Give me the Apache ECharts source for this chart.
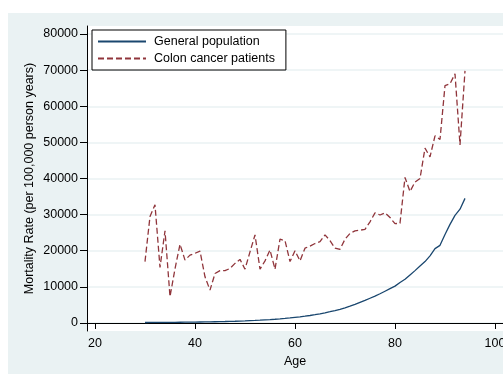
<!DOCTYPE html>
<html>
<head>
<meta charset="utf-8">
<script src="https://cdn.jsdelivr.net/npm/echarts@6/dist/echarts.min.js"></script>
<style>
  html, body { margin: 0; padding: 0; background: #ffffff; }
  #chart { width: 503px; height: 374px; }
</style>
</head>
<body>
<div id="chart"></div>
<script>
// Age in years
const ages = [30, 31, 32, 33, 34, 35, 36, 37, 38, 39,
              40, 41, 42, 43, 44, 45, 46, 47, 48, 49,
              50, 51, 52, 53, 54, 55, 56, 57, 58, 59,
              60, 61, 62, 63, 64, 65, 66, 67, 68, 69,
              70, 71, 72, 73, 74, 75, 76, 77, 78, 79,
              80, 81, 82, 83, 84, 85, 86, 87, 88, 89,
              90, 91, 92, 93, 94];

// Deaths per 100,000 person years
const generalPopulation = [140, 150, 155, 165, 175, 185, 195, 210, 225, 240,
                           260, 280, 300, 320, 350, 380, 410, 450, 490, 540,
                           590, 650, 710, 780, 860, 940, 1040, 1150, 1270, 1400,
                           1550, 1700, 1880, 2080, 2300, 2550, 2820, 3120, 3450, 3800,
                           4200, 4650, 5150, 5700, 6250, 6850, 7450, 8100, 8800, 9500,
                           10200, 11200, 12100, 13300, 14500, 15800, 17000, 18600, 20600, 21500,
                           24500, 27300, 29800, 31500, 34500];

const colonCancerPatients = [17000, 29500, 32700, 15400, 25500, 7300, 15000, 21800, 17400, 18800,
                             19300, 19900, 12800, 9100, 13700, 14500, 14500, 15100, 16500, 17600,
                             14900, 19700, 24400, 14900, 17200, 20200, 14900, 23200, 22800, 17000,
                             20000, 17200, 20700, 21300, 22000, 22500, 24400, 22800, 20700, 20400,
                             23200, 24800, 25500, 25700, 25900, 28000, 30500, 29900, 30500, 29200,
                             27500, 27600, 40300, 36400, 39000, 40000, 48400, 46000, 51800, 50800,
                             65700, 66200, 69000, 49300, 69800];

const xTicks = [20, 40, 60, 80, 100];
const yTicks = [0, 10000, 20000, 30000, 40000, 50000, 60000, 70000, 80000];

const FONT = "'Liberation Sans', Arial, sans-serif";
const pairs = (ys) => ages.map((a, i) => [a, ys[i]]);
const plain = (v) => String(v);

const chart = echarts.init(document.getElementById('chart'), null, { renderer: 'canvas' });

chart.setOption({
  animation: false,
  backgroundColor: '#ffffff',
  textStyle: { fontFamily: FONT, color: '#000000' },
  graphic: [{
    type: 'rect',
    z: -10,
    silent: true,
    shape: { x: 8, y: 13, width: 495, height: 361 },
    style: { fill: '#eaf2f3' }
  }],
  grid: {
    left: 87, top: 26, right: 0, height: 305,
    outerBoundsMode: 'none',
    containLabel: false,
    show: true, backgroundColor: '#ffffff', borderWidth: 0
  },
  legend: {
    orient: 'vertical',
    left: 92, top: 30,
    padding: [5, 11, 5, 5],
    itemGap: 4,
    itemWidth: 48,
    itemHeight: 14,
    itemStyle: { opacity: 0 },
    backgroundColor: '#ffffff',
    borderColor: '#000000',
    borderWidth: 1,
    borderRadius: 0,
    textStyle: { fontFamily: FONT, fontSize: 12.5, color: '#000000', padding: [0, 0, 0, 3] },
    data: ['General population', 'Colon cancer patients']
  },
  xAxis: {
    type: 'value',
    min: 18.4, max: 101.6,
    name: 'Age',
    nameLocation: 'middle',
    nameGap: 16,
    nameTextStyle: { fontFamily: FONT, fontSize: 12.5, color: '#000000' },
    axisLine: { lineStyle: { color: '#000000', width: 1 } },
    axisTick: { show: true, length: 6, customValues: xTicks, lineStyle: { color: '#000000' } },
    axisLabel: { customValues: xTicks, formatter: plain, margin: 6, hideOverlap: false, fontFamily: FONT, fontSize: 12.5, color: '#000000' },
    splitLine: { show: false }
  },
  yAxis: {
    type: 'value',
    min: -2215, max: 82215,
    name: 'Mortality Rate (per 100,000 person years)',
    nameLocation: 'middle',
    nameGap: 51,
    nameMoveOverlap: false,
    nameTextStyle: { fontFamily: FONT, fontSize: 12.5, color: '#000000' },
    axisLine: { show: true, lineStyle: { color: '#000000', width: 1 } },
    axisTick: { show: true, length: 7, customValues: yTicks, lineStyle: { color: '#000000' } },
    axisLabel: { customValues: yTicks, formatter: plain, margin: 9, fontFamily: FONT, fontSize: 12.5, color: '#000000' },
    splitLine: { show: true, lineStyle: { color: '#eaf2f3', width: 1.5 } }
  },
  series: [
    {
      name: 'General population',
      type: 'line',
      data: pairs(generalPopulation),
      symbol: 'none',
      lineStyle: { color: '#1a476f', width: 1.3 },
      itemStyle: { color: '#1a476f' }
    },
    {
      name: 'Colon cancer patients',
      type: 'line',
      data: pairs(colonCancerPatients),
      symbol: 'none',
      lineStyle: { color: '#90353b', width: 1.3, type: [6, 3] },
      itemStyle: { color: '#90353b' }
    }
  ]
});
</script>
</body>
</html>
